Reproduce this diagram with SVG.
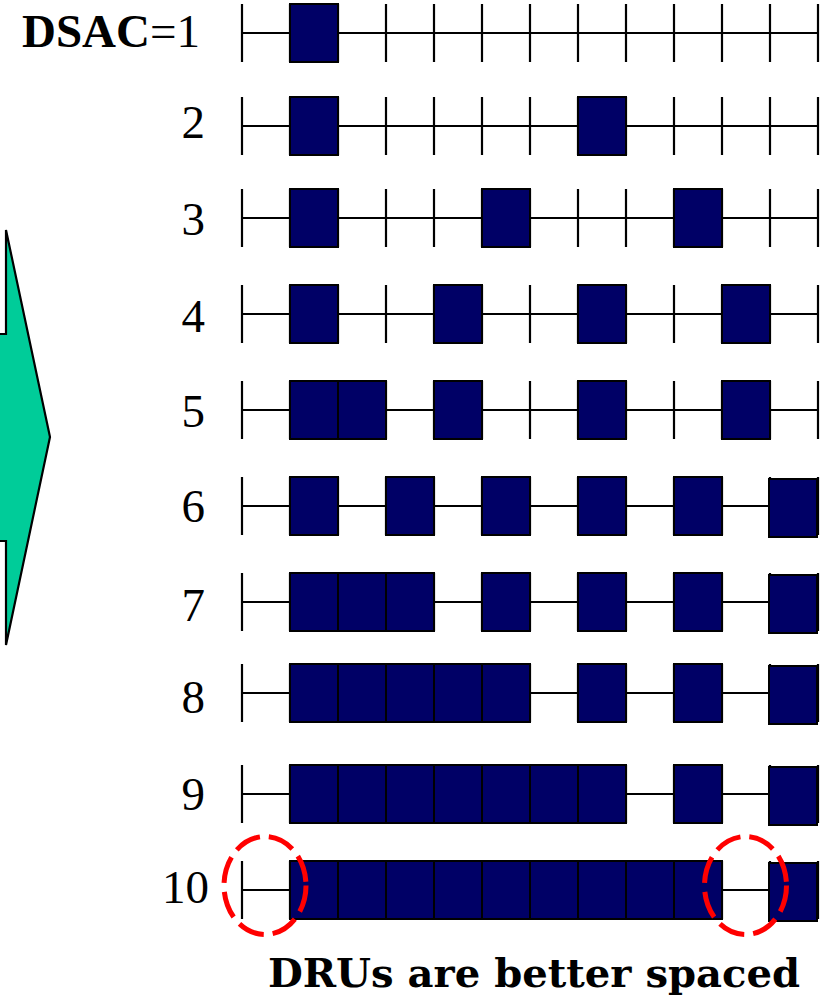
<svg xmlns="http://www.w3.org/2000/svg" xmlns:xlink="http://www.w3.org/1999/xlink" width="824" height="1000" viewBox="0 0 824 1000">
<style>
.ax{stroke:#000;stroke-width:2.2;fill:none}
.b{fill:#000066;stroke:#000;stroke-width:2}
.lbl{font-family:"Liberation Serif","Times New Roman",serif;font-size:47px;fill:#000;text-anchor:end}
.ring{fill:none;stroke:#FF0000;stroke-width:5;stroke-dasharray:27 9}
.cap{font-family:"DejaVu Serif",serif;font-weight:bold;font-size:39.5px;fill:#000}
</style>
<defs>
<g id="axis">
<line class="ax" x1="242" y1="0" x2="818" y2="0"/>
<path class="ax" d="M242,-29V29M290,-29V29M338,-29V29M386,-29V29M434,-29V29M482,-29V29M530,-29V29M578,-29V29M626,-29V29M674,-29V29M722,-29V29M770,-29V29M818,-29V29"/>
</g>
<rect id="bx" class="b" x="0" y="-29" width="48" height="58"/>
</defs>
<rect width="824" height="1000" fill="#fff"/>
<g id="arrow">
<polygon points="-10,334 6,334 6,230 50,437 6,645 6,541 -10,541" fill="#00CC99" stroke="#000" stroke-width="2.2"/>
</g>
<g id="row1">
<text class="lbl" x="200" y="47"><tspan font-weight="bold">DSAC</tspan>=1</text>
<use xlink:href="#axis" y="33"/>
<use xlink:href="#bx" x="290" y="33"/>
</g>
<g id="row2">
<text class="lbl" x="205" y="138">2</text>
<use xlink:href="#axis" y="126"/>
<use xlink:href="#bx" x="290" y="126"/>
<use xlink:href="#bx" x="578" y="126"/>
</g>
<g id="row3">
<text class="lbl" x="205" y="235">3</text>
<use xlink:href="#axis" y="218"/>
<use xlink:href="#bx" x="290" y="218"/>
<use xlink:href="#bx" x="482" y="218"/>
<use xlink:href="#bx" x="674" y="218"/>
</g>
<g id="row4">
<text class="lbl" x="205" y="332">4</text>
<use xlink:href="#axis" y="314"/>
<use xlink:href="#bx" x="290" y="314"/>
<use xlink:href="#bx" x="434" y="314"/>
<use xlink:href="#bx" x="578" y="314"/>
<use xlink:href="#bx" x="722" y="314"/>
</g>
<g id="row5">
<text class="lbl" x="205" y="427">5</text>
<use xlink:href="#axis" y="410"/>
<use xlink:href="#bx" x="290" y="410"/>
<use xlink:href="#bx" x="338" y="410"/>
<use xlink:href="#bx" x="434" y="410"/>
<use xlink:href="#bx" x="578" y="410"/>
<use xlink:href="#bx" x="722" y="410"/>
</g>
<g id="row6">
<text class="lbl" x="205" y="522">6</text>
<use xlink:href="#axis" y="506"/>
<use xlink:href="#bx" x="290" y="506"/>
<use xlink:href="#bx" x="386" y="506"/>
<use xlink:href="#bx" x="482" y="506"/>
<use xlink:href="#bx" x="578" y="506"/>
<use xlink:href="#bx" x="674" y="506"/>
<use xlink:href="#bx" x="769" y="508"/>
</g>
<g id="row7">
<text class="lbl" x="205" y="621">7</text>
<use xlink:href="#axis" y="602"/>
<use xlink:href="#bx" x="290" y="602"/>
<use xlink:href="#bx" x="338" y="602"/>
<use xlink:href="#bx" x="386" y="602"/>
<use xlink:href="#bx" x="482" y="602"/>
<use xlink:href="#bx" x="578" y="602"/>
<use xlink:href="#bx" x="674" y="602"/>
<use xlink:href="#bx" x="769" y="604"/>
</g>
<g id="row8">
<text class="lbl" x="205" y="713">8</text>
<use xlink:href="#axis" y="693"/>
<use xlink:href="#bx" x="290" y="693"/>
<use xlink:href="#bx" x="338" y="693"/>
<use xlink:href="#bx" x="386" y="693"/>
<use xlink:href="#bx" x="434" y="693"/>
<use xlink:href="#bx" x="482" y="693"/>
<use xlink:href="#bx" x="578" y="693"/>
<use xlink:href="#bx" x="674" y="693"/>
<use xlink:href="#bx" x="769" y="695"/>
</g>
<g id="row9">
<text class="lbl" x="205" y="810">9</text>
<use xlink:href="#axis" y="794"/>
<use xlink:href="#bx" x="290" y="794"/>
<use xlink:href="#bx" x="338" y="794"/>
<use xlink:href="#bx" x="386" y="794"/>
<use xlink:href="#bx" x="434" y="794"/>
<use xlink:href="#bx" x="482" y="794"/>
<use xlink:href="#bx" x="530" y="794"/>
<use xlink:href="#bx" x="578" y="794"/>
<use xlink:href="#bx" x="674" y="794"/>
<use xlink:href="#bx" x="769" y="796"/>
</g>
<g id="row10">
<text class="lbl" x="209" y="903">10</text>
<use xlink:href="#axis" y="890"/>
<use xlink:href="#bx" x="290" y="890"/>
<use xlink:href="#bx" x="338" y="890"/>
<use xlink:href="#bx" x="386" y="890"/>
<use xlink:href="#bx" x="434" y="890"/>
<use xlink:href="#bx" x="482" y="890"/>
<use xlink:href="#bx" x="530" y="890"/>
<use xlink:href="#bx" x="578" y="890"/>
<use xlink:href="#bx" x="626" y="890"/>
<use xlink:href="#bx" x="674" y="890"/>
<use xlink:href="#bx" x="769" y="892"/>
</g>
<g id="highlights">
<ellipse class="ring" cx="265" cy="885.5" rx="41" ry="49"/>
<ellipse class="ring" cx="745.5" cy="885.5" rx="41" ry="49"/>
</g>
<g id="caption">
<text class="cap" x="268" y="987" textLength="532" lengthAdjust="spacingAndGlyphs">DRUs are better spaced</text>
</g>
</svg>
